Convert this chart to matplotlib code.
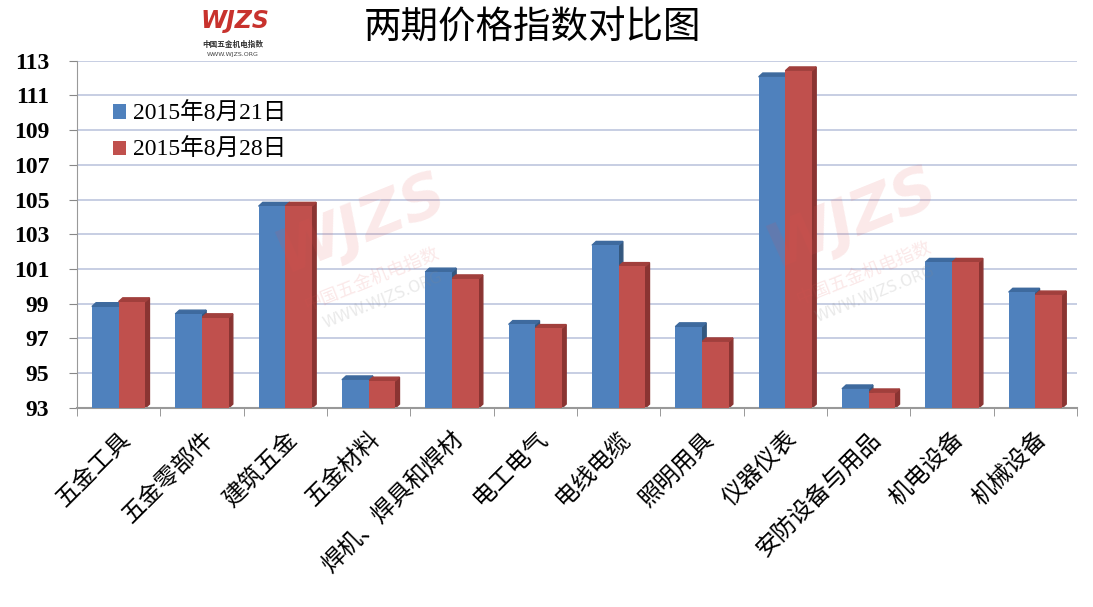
import matplotlib
matplotlib.use('Agg')
from matplotlib import pyplot as plt
from matplotlib.patches import Polygon
import numpy as np

plt.rcParams['font.family'] = ['Noto Sans CJK SC', 'DejaVu Sans']

categories = ['五金工具', '五金零部件', '建筑五金', '五金材料', '焊机、焊具和焊材', '电工电气',
              '电线电缆', '照明用具', '仪器仪表', '安防设备与用品', '机电设备', '机械设备']
series_names = ['2015年8月21日', '2015年8月28日']
aug21 = [98.84, 98.41, 104.62, 94.62, 100.83, 97.81, 102.37, 97.68, 112.07, 94.10, 101.39, 99.67]
aug28 = [99.12, 98.20, 104.62, 94.55, 100.44, 97.58, 101.15, 96.81, 112.42, 93.87, 101.39, 99.51]
yticks = list(range(93, 114, 2))

front = ['#4F81BD', '#C0504D']
side = ['#34587F', '#8A3432']
top = ['#3E6A9E', '#A13F3C']

fig = plt.figure(figsize=(10.93, 6.07), dpi=100)
ax = fig.add_axes([0.0704, 0.328, 0.915, 0.572])

x = np.arange(len(categories))
w = 0.32
dx, dy = 0.05, 0.22      # fake 3D depth

for k, vals in enumerate([aug21, aug28]):
    pos = x + (k - 0.5) * w
    ax.bar(pos, np.array(vals) - 93, bottom=93, width=w, color=front[k],
           label=series_names[k], zorder=3)
    for c, v in zip(pos, vals):
        r = c + w / 2
        l = c - w / 2
        ax.add_patch(Polygon([(r, 93), (r + dx, 93 + dy), (r + dx, v + dy), (r, v)],
                             closed=True, color=side[k], zorder=2, clip_on=False))
        ax.add_patch(Polygon([(l, v), (l + dx, v + dy), (r + dx, v + dy), (r, v)],
                             closed=True, color=top[k], zorder=2, clip_on=False))

ax.set_xlim(-0.5, len(categories) - 0.5)
ax.set_ylim(93, 113)
ax.set_yticks(yticks)
ax.set_yticklabels([str(t) for t in yticks], family=['Liberation Serif'],
                   fontsize=17, fontweight='bold')
ax.yaxis.grid(True, color='#C3CAE0', lw=1.3, zorder=0)
ax.set_axisbelow(True)

ax.set_xticks(np.arange(len(categories) + 1) - 0.5, minor=True)
ax.set_xticks(x)
ax.set_xticklabels(categories, rotation=45, ha='right', rotation_mode='anchor',
                   fontsize=17, fontweight='medium')
ax.tick_params(axis='x', which='major', length=0, pad=14)
ax.tick_params(axis='x', which='minor', length=6, color='#888888')
ax.tick_params(axis='y', length=6, color='#888888', pad=14)

for s in ['top', 'right']:
    ax.spines[s].set_visible(False)
ax.spines['left'].set_color('#999999')
ax.spines['bottom'].set_color('#999999')
ax.spines['bottom'].set_linewidth(1.5)

ax.legend(loc='upper left', bbox_to_anchor=(0.015, 0.94), frameon=False,
          prop={'family': ['Liberation Serif', 'Noto Sans CJK SC'], 'size': 17},
          handlelength=0.55, handleheight=0.55, handletextpad=0.3, labelspacing=0.6)

# title
fig.text(0.487, 0.954, '两期价格指数对比图', ha='center', va='center', fontsize=27,
         fontweight='light')

# logo
fig.text(0.215, 0.965, 'WJZS', ha='center', va='center', fontsize=17,
         fontweight='bold', style='italic', color='#C8322D', family=['DejaVu Sans'])
fig.text(0.213, 0.927, '中国五金机电指数', ha='center', va='center', fontsize=5.5,
         color='#333333', fontweight='bold')
fig.text(0.213, 0.911, 'WWW.WJZS.ORG', ha='center', va='center', fontsize=4.5,
         color='#444444', family=['DejaVu Sans'])

# watermarks
for (wx, wy) in [(0.33, 0.63), (0.78, 0.64)]:
    fig.text(wx, wy, 'WJZS', ha='center', va='center', fontsize=44, fontweight='bold',
             style='italic', color='#E05050', alpha=0.13, rotation=22,
             family=['DejaVu Sans'])
    fig.text(wx + 0.01, wy - 0.09, '中国五金机电指数', ha='center', va='center',
             fontsize=13, color='#E05050', alpha=0.13, rotation=22)
    fig.text(wx + 0.02, wy - 0.125, 'WWW.WJZS.ORG', ha='center', va='center',
             fontsize=11, color='#888888', alpha=0.18, rotation=22,
             family=['DejaVu Sans'])

fig.savefig('out.png', dpi=100)
